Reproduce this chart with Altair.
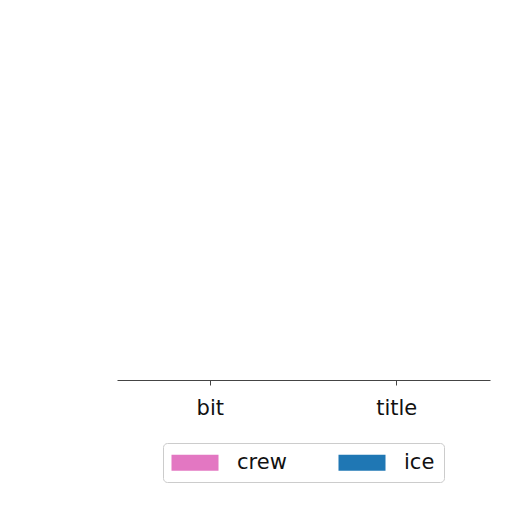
import altair as alt
import pandas as pd

categories = ["bit", "bit", "title", "title"]
series = ["crew", "ice", "crew", "ice"]
values = [0, 0, 0, 0]

series_names = ["crew", "ice"]
series_colors = ["#e377c2", "#1f77b4"]

df = pd.DataFrame({"category": categories, "series": series, "value": values})

chart = alt.Chart(df).mark_bar().encode(
    x=alt.X("category:N", sort=["bit", "title"], title=None,
            scale=alt.Scale(paddingInner=0, paddingOuter=0),
            axis=alt.Axis(labelAngle=0, labelFont="DejaVu Sans", labelFontSize=21,
                          labelColor="#111111", domainColor="#444444", tickColor="#444444",
                          tickSize=5, labelPadding=12, grid=False)),
    xOffset=alt.XOffset("series:N", sort=series_names),
    y=alt.Y("value:Q", axis=None, scale=alt.Scale(domain=[0, 1])),
    color=alt.Color("series:N", sort=series_names,
                    scale=alt.Scale(domain=series_names, range=series_colors),
                    legend=alt.Legend(title=None, orient="none", legendX=46, legendY=403,
                                      direction="horizontal", columns=2,
                                      symbolType="M-1.375,-1L4.5,-1L4.5,1L-1.375,1Z",
                                      symbolSize=256, symbolStrokeWidth=0,
                                      labelFont="DejaVu Sans", labelFontSize=21,
                                      labelColor="#111111", labelOffset=44,
                                      columnPadding=51, padding=9,
                                      fillColor="white", strokeColor="#cccccc",
                                      cornerRadius=4)),
).properties(
    width=373, height=340,
    autosize=alt.AutoSizeParams(type="none"),
    padding={"left": 109, "top": 32, "right": 4, "bottom": 108},
).configure_view(stroke=None)

chart.save("out.html", embed_options={"renderer": "svg", "actions": False})
